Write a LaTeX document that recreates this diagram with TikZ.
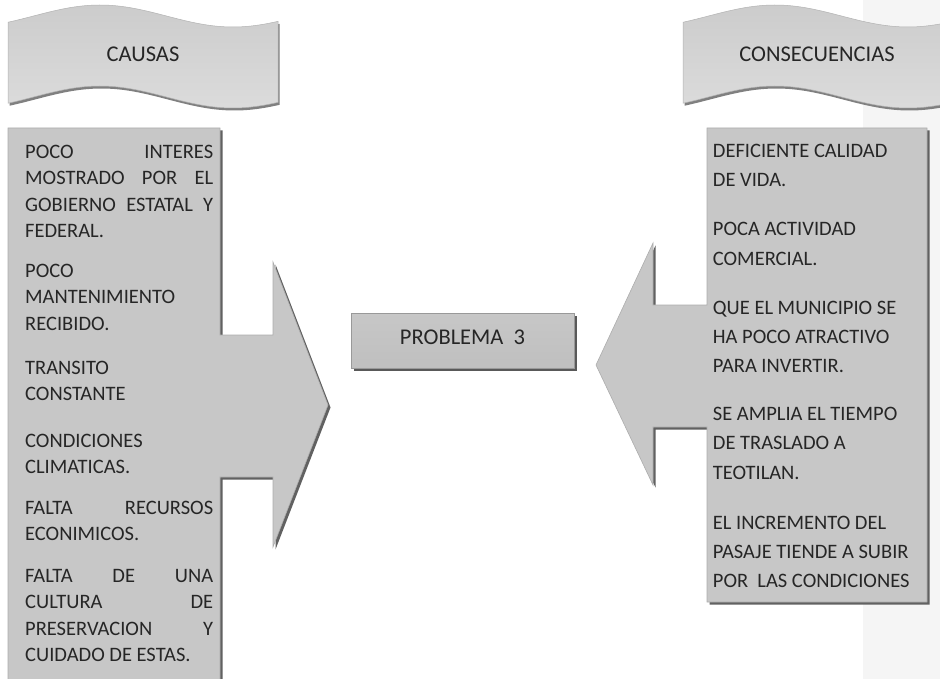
\documentclass[tikz,border=0pt]{standalone}
\usepackage{fontspec}
\setmainfont{Carlito}
\begin{document}
\begin{tikzpicture}[x=1pt,y=-1pt,
  txt/.style={inner sep=0pt,text=black!85,font=\fontsize{20.5}{26.5}\selectfont},
  bigtxt/.style={inner sep=0pt,text=black!85,font=\fontsize{22.5}{27}\selectfont},
  bannerfill/.style={top color=black!20,bottom color=black!14,draw=black!30,line width=0.5pt},
  shapefill/.style={top color=black!22,middle color=black!40,bottom color=black!22,draw=black!32,line width=0.6pt},
  shadowfill/.style={fill=black!62},
  probfill/.style={top color=black!22,middle color=black!38,bottom color=black!25,draw=black!40,line width=0.6pt}]
\useasboundingbox (0,0) rectangle (940,679);
\clip (0,0) rectangle (940,679);
% side panel
\fill[black!4] (863,0) rectangle (940,679);
% banners
\fill[black!50] plot[domain=9.5:279.5,samples=60] (\x,{18.5-11*sin((\x-9.5)*1.35338-34.5)}) -- plot[domain=279.5:9.5,samples=60] (\x,{99.5-11*sin((\x-9.5)*1.35338-34.5)}) -- cycle;
\shade[bannerfill] plot[domain=8:278,samples=60] (\x,{16-11*sin((\x-8)*1.35338-34.5)}) -- plot[domain=278:8,samples=60] (\x,{97-11*sin((\x-8)*1.35338-34.5)}) -- cycle;
\fill[black!50] plot[domain=684.5:954.5,samples=60] (\x,{18.5-11*sin((\x-684.5)*1.35338-34.5)}) -- plot[domain=954.5:684.5,samples=60] (\x,{99.5-11*sin((\x-684.5)*1.35338-34.5)}) -- cycle;
\shade[bannerfill] plot[domain=683:953,samples=60] (\x,{16-11*sin((\x-683)*1.35338-34.5)}) -- plot[domain=953:683,samples=60] (\x,{97-11*sin((\x-683)*1.35338-34.5)}) -- cycle;
\node[bigtxt,anchor=base] (causas) at (143,61.2) {CAUSAS};
\node[bigtxt,anchor=base] (consec) at (817,61.2) {CONSECUENCIAS};
% left shape
\fill[shadowfill,shift={(2.5,2.5)}] (8,128) -- (220,128) -- (220,335) -- (273,335) -- (273,262) -- (328,405) -- (273,547) -- (273,477) -- (220,477) -- (220,690) -- (8,690) -- cycle;
\shade[shapefill] (8,128) -- (220,128) -- (220,335) -- (273,335) -- (273,262) -- (328,405) -- (273,547) -- (273,477) -- (220,477) -- (220,690) -- (8,690) -- cycle;
% right shape
\fill[shadowfill,shift={(2.5,2.5)}] (707,128) -- (927,128) -- (927,602) -- (707,602) -- (707,427) -- (653,427) -- (653,485) -- (596,365) -- (653,243) -- (653,305) -- (707,305) -- cycle;
\shade[shapefill] (707,128) -- (927,128) -- (927,602) -- (707,602) -- (707,427) -- (653,427) -- (653,485) -- (596,365) -- (653,243) -- (653,305) -- (707,305) -- cycle;
% problem box
\fill[black!65] (354,316) rectangle (577,371);
\shade[probfill] (351,313) rectangle (574,368);
\node[bigtxt,anchor=base] (prob) at (462.5,344.5) {PROBLEMA\ \ 3};
% left texts
\node[txt,anchor=base west] (c1) at (25,158.3) {\parbox[t]{188pt}{\baselineskip=26.5pt POCO\hfill INTERES\\ MOSTRADO\hfill POR\hfill EL\\ GOBIERNO\hfill ESTATAL\hfill Y\\ FEDERAL.}};
\node[txt,anchor=base west] (c2) at (25,277.3) {\parbox[t]{188pt}{\baselineskip=26.5pt POCO\\ MANTENIMIENTO\\ RECIBIDO.}};
\node[txt,anchor=base west] (c3) at (25,374.1) {\parbox[t]{188pt}{\baselineskip=26.5pt TRANSITO\\ CONSTANTE}};
\node[txt,anchor=base west] (c4) at (25,447.4) {\parbox[t]{188pt}{\baselineskip=26.5pt CONDICIONES\\ CLIMATICAS.}};
\node[txt,anchor=base west] (c5) at (25,514.1) {\parbox[t]{188pt}{\baselineskip=26.5pt FALTA\hfill RECURSOS\\ ECONIMICOS.}};
\node[txt,anchor=base west] (c6) at (25,582.4) {\parbox[t]{188pt}{\baselineskip=26.5pt FALTA\hfill DE\hfill UNA\\ CULTURA\hfill DE\\ PRESERVACION\hfill Y\\ CUIDADO DE ESTAS.}};
% right texts
\node[txt,anchor=base west] (e1) at (712.7,157.4) {\parbox[t]{210pt}{\baselineskip=29.3pt DEFICIENTE CALIDAD\\ DE VIDA.}};
\node[txt,anchor=base west] (e2) at (712.7,235.8) {\parbox[t]{210pt}{\baselineskip=29.3pt POCA ACTIVIDAD\\ COMERCIAL.}};
\node[txt,anchor=base west] (e3) at (712.7,314.1) {\parbox[t]{210pt}{\baselineskip=29.3pt QUE EL MUNICIPIO SE\\ HA POCO ATRACTIVO\\ PARA INVERTIR.}};
\node[txt,anchor=base west] (e4) at (712.7,420.6) {\parbox[t]{210pt}{\baselineskip=29.3pt SE AMPLIA EL TIEMPO\\ DE TRASLADO A\\ TEOTILAN.}};
\node[txt,anchor=base west] (e5) at (712.7,529.1) {\parbox[t]{210pt}{\baselineskip=29.3pt EL INCREMENTO DEL\\ PASAJE TIENDE A SUBIR\\ POR\ \ LAS CONDICIONES}};
\end{tikzpicture}
\end{document}
